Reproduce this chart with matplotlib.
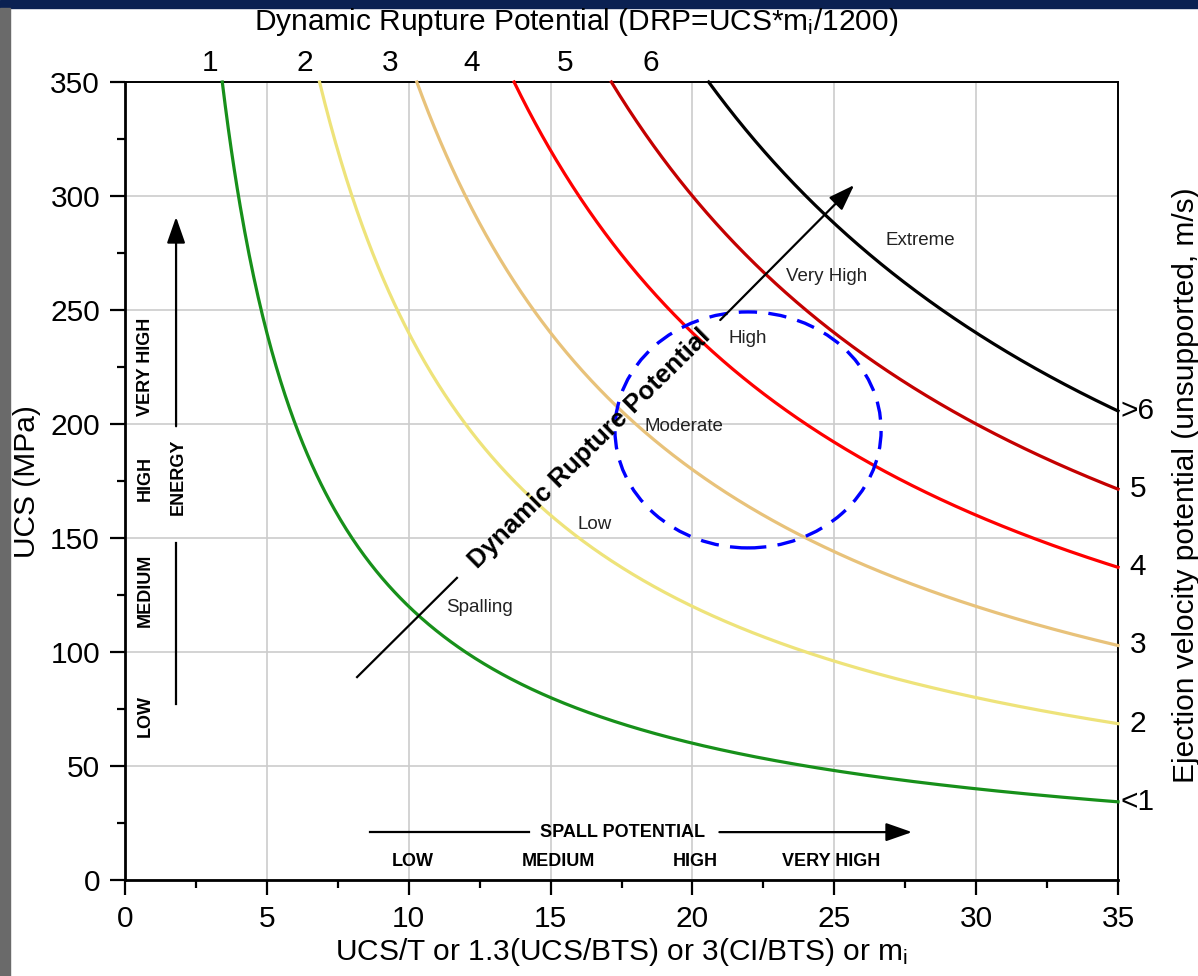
import numpy as np
import matplotlib
matplotlib.use("Agg")
import matplotlib.pyplot as plt
from matplotlib.patches import Ellipse, Rectangle

plt.rcParams['font.family'] = ['Liberation Sans', 'DejaVu Sans']
plt.rcParams['mathtext.fontset'] = 'custom'
plt.rcParams['mathtext.rm'] = 'Liberation Sans'
plt.rcParams['mathtext.it'] = 'Liberation Sans:italic'
plt.rcParams['mathtext.default'] = 'regular'

# ---------------- data ----------------
drp_levels = [1, 2, 3, 4, 5, 6]                 # DRP = UCS*mi/1200
drp_const = 1200
curve_colors = ['#17901a', '#eee37a', '#e8c27a', '#ff0000', '#c40000', '#000000']
top_labels = ['1', '2', '3', '4', '5', '6']
top_label_x = [3.0, 6.34, 9.34, 12.2, 15.5, 18.54]
right_labels = ['<1', '2', '3', '4', '5', '>6']

zone_labels = ['Spalling', 'Low', 'Moderate', 'High', 'Very High', 'Extreme']
zone_x = [12.51, 16.57, 19.7, 21.96, 24.74, 28.02]
zone_y = [119.7, 156.1, 198.7, 237.3, 264.5, 280.7]

energy_labels = ['LOW', 'MEDIUM', 'HIGH', 'VERY HIGH']
energy_y = [72, 127, 176, 225]
spall_labels = ['LOW', 'MEDIUM', 'HIGH', 'VERY HIGH']
spall_x = [10.15, 15.26, 20.1, 24.9]

ellipse_center = (21.96, 197.4)
ellipse_size = (9.38, 103.5)

xticks = [0, 5, 10, 15, 20, 25, 30, 35]
yticks = [0, 50, 100, 150, 200, 250, 300, 350]

# ---------------- figure ----------------
W, H = 1198, 976
fig = plt.figure(figsize=(W / 100, H / 100), dpi=100)
fig.patches.append(Rectangle((0, 1 - 8 / H), 1, 8 / H, transform=fig.transFigure,
                             color='#0b2152', zorder=-5))
fig.patches.append(Rectangle((0, 0), 10 / W, 1 - 8 / H, transform=fig.transFigure,
                             color='#6a6a6a', zorder=-5))

L, R, B, T = 125, 1118, 880, 82
ax = fig.add_axes([L / W, 1 - B / H, (R - L) / W, (B - T) / H])
ax.set_xlim(0, 35)
ax.set_ylim(0, 350)

ax.set_xticks(xticks)
ax.set_yticks(yticks)
ax.set_xticks(np.arange(2.5, 35, 5), minor=True)
ax.set_yticks(np.arange(25, 350, 50), minor=True)
ax.tick_params(which='major', direction='out', length=11, width=1.6, labelsize=21.5, pad=7)
ax.tick_params(which='minor', direction='out', length=6, width=1.6)
ax.tick_params(right=False, top=False, which='both')
ax.grid(True, which='major', color='#cccccc', lw=1.2)
ax.set_axisbelow(True)
for s in ['left', 'bottom']:
    ax.spines[s].set_linewidth(2.0)
for s in ['right', 'top']:
    ax.spines[s].set_linewidth(1.4)

# curves
for lev, col in zip(drp_levels, curve_colors):
    m0 = drp_const * lev / 350.0
    m = np.linspace(m0, 35, 600)
    ax.plot(m, drp_const * lev / m, color=col, lw=2.3, zorder=3, clip_on=False)

# top labels
for lab, x in zip(top_labels, top_label_x):
    ax.text(x, 358.3, lab, ha='center', va='center', fontsize=21.5, clip_on=False)

# right labels
for lab, lev in zip(right_labels, drp_levels):
    ax.text(35.7, drp_const * lev / 35, lab, ha='center', va='center',
            fontsize=21.5, clip_on=False)

# zone labels
for lab, x, y in zip(zone_labels, zone_x, zone_y):
    ax.text(x, y, lab, ha='center', va='center', fontsize=13.5, color='#222222', zorder=5)

# dashed ellipse
ax.add_patch(Ellipse(ellipse_center, ellipse_size[0], ellipse_size[1], fill=False,
                     ec='#0000ff', lw=2.4, ls=(0, (5.5, 3.4)), zorder=4))

# diagonal arrow "Dynamic Rupture Potential"
arrow_kw = dict(arrowstyle='-|>,head_length=0.8,head_width=0.28', color='black',
                lw=1.6, mutation_scale=20, shrinkA=0, shrinkB=0)
ax.plot([8.18, 11.70], [89.0, 132.5], color='black', lw=1.6, zorder=5)
ax.annotate('', xy=(25.70, 304.8), xytext=(20.98, 245.6), arrowprops=arrow_kw, zorder=5)
ax.text(16.37, 189.0, 'Dynamic Rupture Potential', rotation=44.7, rotation_mode='anchor',
        ha='center', va='center', fontsize=18.5, fontweight='bold', zorder=6)

# vertical energy arrow
ax.plot([1.8, 1.8], [77.0, 148.0], color='black', lw=1.6)
ax.annotate('', xy=(1.8, 290.8), xytext=(1.8, 199.0), arrowprops=arrow_kw)
ax.text(1.87, 176.8, 'ENERGY', rotation=90, ha='center', va='center', fontsize=13,
        fontweight='bold')
for lab, y in zip(energy_labels, energy_y):
    ax.text(0.72, y, lab, rotation=90, ha='center', va='center', fontsize=13,
            fontweight='bold')

# horizontal spall arrow
ax.plot([8.64, 14.25], [21, 21], color='black', lw=1.6)
ax.annotate('', xy=(27.74, 21), xytext=(20.95, 21), arrowprops=arrow_kw)
ax.text(17.55, 21, 'SPALL POTENTIAL', ha='center', va='center', fontsize=13,
        fontweight='bold')
for lab, x in zip(spall_labels, spall_x):
    ax.text(x, 8.3, lab, ha='center', va='center', fontsize=13, fontweight='bold')

# axis titles
fig.text(576 / W, 1 - 22 / H, 'Dynamic Rupture Potential (DRP=UCS*m$_i$/1200)',
         ha='center', va='center', fontsize=21.5)
fig.text(621.5 / W, 1 - 952 / H, 'UCS/T or 1.3(UCS/BTS) or 3(CI/BTS) or m$_i$',
         ha='center', va='center', fontsize=21.5)
fig.text(27 / W, 1 - 482 / H, 'UCS (MPa)', rotation=90, ha='center', va='center',
         fontsize=21.5)
fig.text(1186 / W, 1 - 485 / H, 'Ejection velocity potential (unsupported, m/s)',
         rotation=90, ha='center', va='center', fontsize=21.5)

fig.savefig('out.png', dpi=100)
